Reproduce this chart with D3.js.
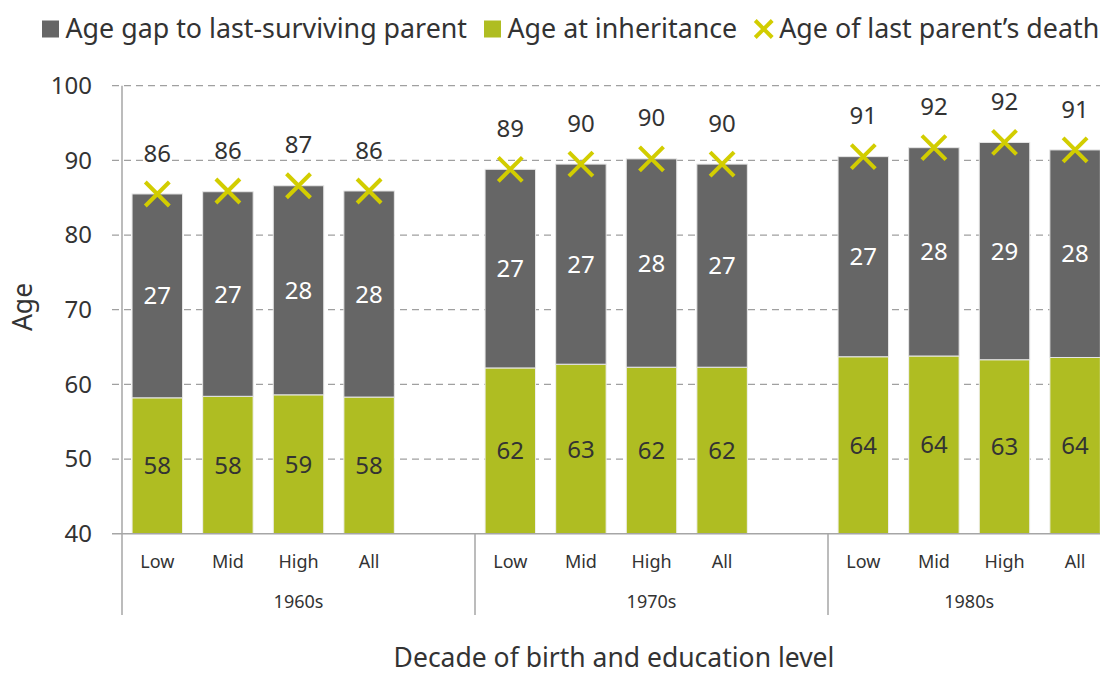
<!DOCTYPE html>
<html>
<head>
<meta charset="utf-8">
<script src="https://cdn.jsdelivr.net/npm/d3@7"></script>
<style>
  html, body { margin: 0; padding: 0; background: #fff; }
  svg { display: block; font-family: "Noto Sans", "Open Sans", sans-serif; }
</style>
</head>
<body>
<svg id="chart" width="1100" height="675"></svg>
<script>
// ---- data ----
const decades = ["1960s", "1970s", "1980s"];
const levels = ["Low", "Mid", "High", "All"];
const ageAtInheritance = [58.2, 58.4, 58.6, 58.3, 62.2, 62.7, 62.3, 62.3, 63.7, 63.8, 63.3, 63.6];
const ageGap = [27.3, 27.4, 28.0, 27.6, 26.6, 26.8, 27.9, 27.2, 26.8, 27.9, 29.1, 27.8];
const ageAtDeath = [85.5, 85.9, 86.6, 85.9, 88.8, 89.5, 90.2, 89.5, 90.5, 91.7, 92.4, 91.4];
const yTicks = [40, 50, 60, 70, 80, 90, 100];
const seriesNames = ["Age gap to last-surviving parent", "Age at inheritance", "Age of last parent\u2019s death"];

// ---- style ----
const C_GAP = "#666666", C_INH = "#afbd22", C_DEATH = "#d2cd00";
const C_TEXT = "#333333", C_AXIS = "#a6a6a6";

const svg = d3.select("#chart");

// build rows
const rows = [];
decades.forEach((d, di) => levels.forEach((l, li) => {
  const i = di * levels.length + li;
  rows.push({ key: d + "|" + l, decade: d, level: l,
    inh: ageAtInheritance[i], gap: ageGap[i], death: ageAtDeath[i] });
}));

// x slots: a blank slot between decade groups
const slots = [];
decades.forEach((d, di) => {
  levels.forEach(l => slots.push(d + "|" + l));
  if (di < decades.length - 1) slots.push("blank" + di);
});

const plotLeft = 122, plotRight = 1110.4, plotTop = 85.7, plotBottom = 533.7;
const x = d3.scaleBand().domain(slots).range([plotLeft, plotRight])
  .paddingInner(0.285).paddingOuter(0.1425);
const y = d3.scaleLinear().domain([40, 100]).range([plotBottom, plotTop]);
const half = (x.step() - x.bandwidth()) / 2;

// gridlines
svg.append("g").selectAll("line").data(yTicks.filter(t => t > 40)).join("line")
  .attr("x1", plotLeft - 10).attr("x2", 1100)
  .attr("y1", d => y(d)).attr("y2", d => y(d))
  .attr("stroke", "#a0a0a0").attr("stroke-width", 1.3)
  .attr("stroke-dasharray", "7,5");

// y axis
const yAxis = d3.axisLeft(y).tickValues(yTicks).tickSize(0).tickPadding(30);
const gy = svg.append("g").attr("transform", `translate(${plotLeft},0)`).call(yAxis);
gy.select(".domain").remove();
gy.selectAll("text").attr("font-size", 24).attr("fill", C_TEXT)
  .attr("font-family", "'Noto Sans', 'Open Sans', sans-serif");

// bars
const bars = svg.append("g");
bars.selectAll("rect.inh").data(rows).join("rect").attr("class", "inh")
  .attr("x", d => x(d.key)).attr("width", x.bandwidth())
  .attr("y", d => y(d.inh)).attr("height", d => y(40) - y(d.inh))
  .attr("fill", C_INH).attr("stroke", "#f0f0f0").attr("stroke-width", 1);
bars.selectAll("rect.gap").data(rows).join("rect").attr("class", "gap")
  .attr("x", d => x(d.key)).attr("width", x.bandwidth())
  .attr("y", d => y(d.inh + d.gap)).attr("height", d => y(d.inh) - y(d.inh + d.gap))
  .attr("fill", C_GAP).attr("stroke", "#e6e6e6").attr("stroke-width", 1);

// axis lines
svg.append("line").attr("x1", plotLeft).attr("x2", plotLeft)
  .attr("y1", plotTop).attr("y2", 615).attr("stroke", C_AXIS).attr("stroke-width", 1.5);
svg.append("line").attr("x1", plotLeft - 10).attr("x2", 1100)
  .attr("y1", plotBottom).attr("y2", plotBottom).attr("stroke", C_AXIS).attr("stroke-width", 1.5);

// group separators & labels
decades.forEach((d, di) => {
  const start = x(d + "|Low") - half;
  const end = di < decades.length - 1 ? x(decades[di + 1] + "|Low") - half : plotRight;
  if (di > 0) svg.append("line").attr("x1", start).attr("x2", start)
    .attr("y1", plotBottom).attr("y2", 615).attr("stroke", C_AXIS).attr("stroke-width", 1.5);
  svg.append("text").attr("x", (start + end) / 2).attr("y", 608)
    .attr("text-anchor", "middle").attr("font-size", 18).attr("fill", C_TEXT).text(d);
});
svg.append("g").selectAll("text").data(rows).join("text")
  .attr("x", d => x(d.key) + x.bandwidth() / 2).attr("y", 568)
  .attr("text-anchor", "middle").attr("font-size", 18).attr("fill", C_TEXT)
  .text(d => d.level);

// markers
const ms = 12;
const mk = svg.append("g").selectAll("g").data(rows).join("g")
  .attr("transform", d => `translate(${x(d.key) + x.bandwidth() / 2},${y(d.death)})`);
mk.append("path").attr("d", `M${-ms},${-ms}L${ms},${ms}M${-ms},${ms}L${ms},${-ms}`)
  .attr("stroke", C_DEATH).attr("stroke-width", 4).attr("fill", "none");

// labels
const lab = svg.append("g").attr("font-size", 24).attr("text-anchor", "middle");
lab.selectAll("text.d").data(rows).join("text").attr("class", "d")
  .attr("x", d => x(d.key) + x.bandwidth() / 2).attr("y", d => y(d.death) - 41 + 8.6)
  .attr("fill", C_TEXT).text(d => Math.round(d.death));
lab.selectAll("text.g").data(rows).join("text").attr("class", "g")
  .attr("x", d => x(d.key) + x.bandwidth() / 2)
  .attr("y", d => (y(d.inh) + y(d.inh + d.gap)) / 2 + 8.6)
  .attr("fill", "#ffffff").text(d => Math.round(d.gap));
lab.selectAll("text.i").data(rows).join("text").attr("class", "i")
  .attr("x", d => x(d.key) + x.bandwidth() / 2)
  .attr("y", d => (y(d.inh) + y(40)) / 2 + 8.6)
  .attr("fill", C_TEXT).text(d => Math.round(d.inh));

// axis titles
svg.append("text").attr("transform", "translate(32,307) rotate(-90)")
  .attr("text-anchor", "middle").attr("font-size", 26.5).attr("fill", C_TEXT).text("Age");
svg.append("text").attr("x", 614).attr("y", 667)
  .attr("text-anchor", "middle").attr("font-size", 26.5).attr("fill", C_TEXT)
  .text("Decade of birth and education level");

// legend
const leg = svg.append("g");
let lx = 42;
seriesNames.forEach((name, i) => {
  if (i < 2) {
    leg.append("rect").attr("x", lx).attr("y", 20.5).attr("width", 17).attr("height", 17)
      .attr("fill", i === 0 ? C_GAP : C_INH);
  } else {
    const cx = lx + 9.5, cy = 29, s = 8.5;
    leg.append("path").attr("d", `M${cx - s},${cy - s}L${cx + s},${cy + s}M${cx - s},${cy + s}L${cx + s},${cy - s}`)
      .attr("stroke", C_DEATH).attr("stroke-width", 4).attr("fill", "none");
  }
  const tx = lx + (i < 2 ? 23.5 : 25);
  const t = leg.append("text").attr("x", tx).attr("y", 38).attr("font-size", 26.8)
    .attr("fill", C_TEXT).text(name);
  lx = tx + t.node().getComputedTextLength() + 17;
});
</script>
</body>
</html>
